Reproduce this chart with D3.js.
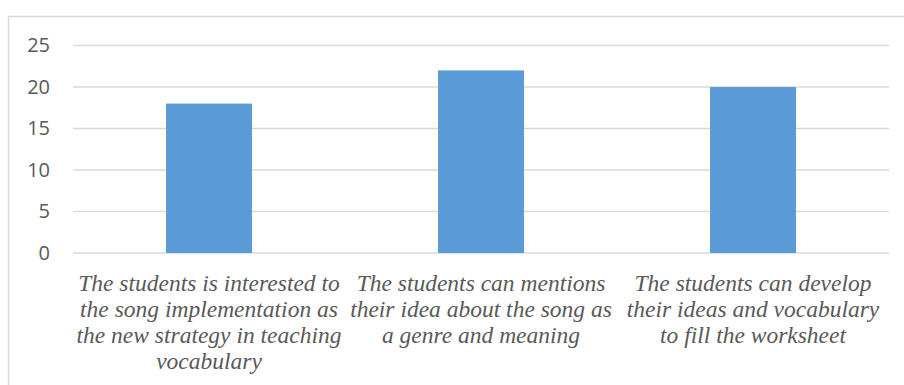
<!DOCTYPE html>
<html>
<head>
<meta charset="utf-8">
<script src="https://cdn.jsdelivr.net/npm/d3@7"></script>
<style>
    body { margin: 0; background: #fff; }
</style>
</head>
<body>
<div id="chart"></div>
<script>
var categories = ["cat1", "cat2", "cat3"];
var values = [18, 22, 20];
var yTicks = [0, 5, 10, 15, 20, 25];
var categoryLines = [
    ["The students is interested to", "the song implementation as", "the new strategy in teaching", "vocabulary"],
    ["The students can mentions", "their idea about the song as", "a genre and meaning"],
    ["The students can develop", "their ideas and vocabulary", "to fill the worksheet"]
];

var margin = {
    left: 73,
    right: 15,
    top: 45.5,
    bottom: 132
};

var width = 904 - margin.left - margin.right,
    height = 385 - margin.top - margin.bottom;

var root = d3.select("#chart")
    .append("svg")
    .attr("width", 904)
    .attr("height", 385);

// chart area border (right and bottom edges fall outside the picture)
root.append("rect")
    .attr("x", 8.5)
    .attr("y", 16.5)
    .attr("width", 920)
    .attr("height", 400)
    .attr("fill", "none")
    .attr("stroke", "#d9d9d9")
    .attr("stroke-width", 1.5);

var svg = root.append("g")
    .attr("transform", "translate(" + margin.left + "," + margin.top + ")");

var x = d3.scaleBand()
    .range([0, width])
    .domain(categories)
    .paddingInner(0.684)
    .paddingOuter(0.342);

var y = d3.scaleLinear()
    .range([height, 0])
    .domain([0, 25]);

// gridlines
svg.append("g")
    .selectAll("line")
    .data(yTicks)
    .enter()
    .append("line")
    .attr("x1", 0)
    .attr("x2", width)
    .attr("y1", function(d) { return y(d); })
    .attr("y2", function(d) { return y(d); })
    .attr("stroke", "#d9d9d9")
    .attr("stroke-width", 1.3);

var yAxis = svg.append("g")
    .call(d3.axisLeft(y).tickValues(yTicks).tickSize(0).tickPadding(23));
yAxis.select(".domain").remove();
yAxis.selectAll("text")
    .attr("fill", "#595959")
    .style("font-family", "'Open Sans', sans-serif")
    .style("font-size", "20px");

svg.selectAll(".bar")
    .data(values)
    .enter()
    .append("rect")
    .attr("class", "bar")
    .attr("fill", "#5b9bd5")
    .attr("x", function(d, i) { return x(categories[i]); })
    .attr("width", x.bandwidth())
    .attr("y", function(d) { return y(d); })
    .attr("height", function(d) { return y(0) - y(d); });

// category labels, wrapped as in the original
var xAxis = svg.append("g")
    .attr("transform", "translate(0," + height + ")");

xAxis.selectAll(".cat")
    .data(categories)
    .enter()
    .append("text")
    .attr("class", "cat")
    .attr("text-anchor", "middle")
    .attr("fill", "#595959")
    .style("font-family", "'Liberation Serif', 'Times New Roman', serif")
    .style("font-style", "italic")
    .style("font-size", "23.5px")
    .each(function(d, i) {
        var cx = x(d) + x.bandwidth() / 2;
        d3.select(this)
            .selectAll("tspan")
            .data(categoryLines[i])
            .enter()
            .append("tspan")
            .attr("x", cx)
            .attr("y", function(t, j) { return 38 + j * 26; })
            .text(function(t) { return t; });
    });
</script>
</body>
</html>
